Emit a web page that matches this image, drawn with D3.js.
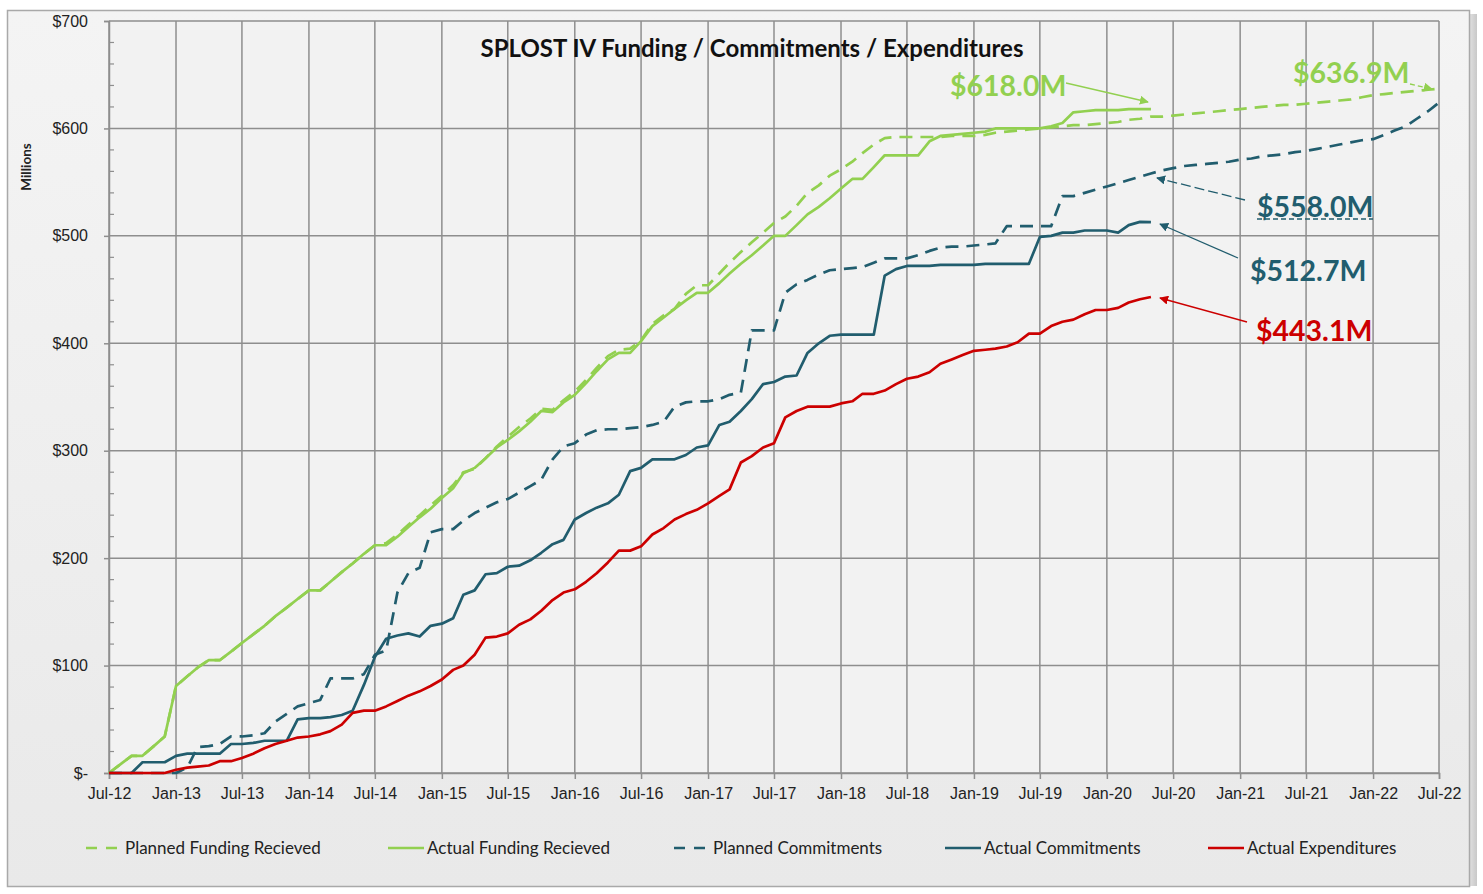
<!DOCTYPE html>
<html>
<head>
<meta charset="utf-8">
<script src="https://cdn.jsdelivr.net/npm/d3@7"></script>
<style>
  body { margin: 0; background: #fff; }
  svg { display: block; font-family: Lato, "Open Sans", sans-serif; }
</style>
</head>
<body>
<div name="chart"></div>
<script>
// monthly values, starting Jul-12 ($ millions)
const startMonth = new Date(2012, 6, 1);

const actualFunding = [
  0, 8, 16, 16, 25, 34, 81, 90, 98, 105, 105, 113,
  121, 129, 137, 146, 154, 162, 170, 170, 178, 187, 195, 204,
  212, 212, 220, 229, 238, 246, 256, 265, 279, 284, 293, 303,
  310, 318, 327, 337, 336, 345, 352, 363, 374, 385, 391, 391,
  402, 416, 424, 432, 440, 447, 447, 456, 465, 474, 482, 491,
  500, 500, 510, 520, 527, 535, 544, 553, 553, 564, 575, 575,
  575, 575, 588, 593, 594, 595, 596, 597, 600, 600, 600, 600,
  600, 602, 605, 615, 616, 617, 617, 617, 618, 618, 618,
];

const plannedFunding = [
  0, 8, 16, 16, 25, 34, 81, 90, 98, 105, 105, 113,
  121, 129, 137, 146, 154, 162, 170, 170, 178, 187, 195, 204,
  212, 214, 222, 231, 240, 249, 258, 268, 280, 283, 293, 304,
  313, 322, 330, 339, 338, 347, 355, 366, 377, 388, 394, 395,
  403, 418, 426, 432, 446, 454, 454, 465, 475, 485, 494, 503,
  512, 518, 528, 540, 547, 556, 562, 569, 577, 585, 591, 592,
  592, 592, 592, 592, 593, 593, 593, 594, 596, 597, 598, 599,
  600, 601, 602, 603, 603, 604, 605, 606, 608, 609, 611, 611,
  612, 613, 614, 615, 616, 617, 618, 619, 620, 621, 622, 622,
  623, 624, 625, 626, 627, 629, 631, 632, 633, 634, 635, 636,
  637,
];

const plannedCommitments = [
  0, 0, 0, 0, 0, 0, 0, 5, 24, 25, 27, 34,
  34, 35, 37, 48, 55, 62, 65, 68, 88, 88, 88, 92,
  110, 114, 168, 186, 191, 224, 227, 227, 235, 242, 247, 252,
  255, 261, 267, 273, 292, 304, 307, 315, 319, 320, 320, 321,
  322, 324, 327, 341, 345, 346, 346, 348, 352, 354, 412, 412,
  412, 447, 455, 459, 464, 468, 469, 470, 471, 475, 479, 479,
  479, 482, 486, 489, 490, 490, 491, 492, 493, 509, 509, 509,
  509, 509, 537, 537, 540, 543, 546, 549, 552, 555, 558, 561,
  563, 565, 566, 567, 568, 569, 571, 572, 574, 575, 576, 578,
  579, 581, 583, 585, 587, 589, 590, 594, 598, 602, 609, 616,
  624,
];

const actualCommitments = [
  0, 0, 0, 10, 10, 10, 16, 18, 18, 18, 18, 27,
  27, 28, 30, 30, 30, 50, 51, 51, 52, 54, 58, 82,
  108, 125, 128, 130, 127, 137, 139, 144, 166, 170, 185, 186,
  192, 193, 198, 205, 213, 217, 236, 242, 247, 251, 259, 281,
  284, 292, 292, 292, 296, 303, 305, 324, 327, 337, 348, 362,
  364, 369, 370, 391, 400, 407, 408, 408, 408, 408, 463, 469,
  472, 472, 472, 473, 473, 473, 473, 474, 474, 474, 474, 474,
  499, 500, 503, 503, 505, 505, 505, 503, 510, 513, 512.7,
];

const actualExpenditures = [
  0, 0, 0, 0, 0, 0, 3, 5, 6, 7, 11, 11,
  14, 18, 23, 27, 30, 33, 34, 36, 39, 45, 56, 58,
  58, 62, 67, 72, 76, 81, 87, 96, 100, 110, 126, 127,
  130, 138, 143, 151, 161, 168, 171, 178, 186, 196, 207, 207,
  211, 222, 228, 236, 241, 245, 251, 258, 264, 289, 295, 303,
  307, 331, 337, 341, 341, 341, 344, 346, 353, 353, 356, 362,
  367, 369, 373, 381, 385, 389, 393, 394, 395, 397, 401, 409,
  409, 416, 420, 422, 427, 431, 431, 433, 438, 441, 443.1,
];

const seriesNames = [
  'Planned Funding Recieved', 'Actual Funding Recieved',
  'Planned Commitments', 'Actual Commitments', 'Actual Expenditures',
];
const seriesValues = [plannedFunding, actualFunding, plannedCommitments, actualCommitments, actualExpenditures];
const seriesColors = ['#92d050', '#92d050', '#215d6e', '#215d6e', '#cc0000'];
const seriesDashed = [true, false, true, false, false];

const yTicks = [0, 100, 200, 300, 400, 500, 600, 700];
const yMinor = d3.range(0, 701, 20);

// call-out labels
const callouts = [
  { text: '$618.0M', color: '#92d050' },
  { text: '$636.9M', color: '#92d050' },
  { text: '$558.0M', color: '#215d6e' },
  { text: '$512.7M', color: '#215d6e' },
  { text: '$443.1M', color: '#cc0000' },
];

// ---

const svgWidth = 1483, svgHeight = 894;
const margin = { top: 21, right: 44, bottom: 121, left: 109 };
const plotW = svgWidth - margin.left - margin.right;
const plotH = svgHeight - margin.top - margin.bottom;

const svg = d3.select('div[name=chart]').append('svg')
  .attr('width', svgWidth)
  .attr('height', svgHeight);

const defs = svg.append('defs');
const bgGrad = defs.append('linearGradient').attr('id', 'bg').attr('x1', 0).attr('y1', 0).attr('x2', 0).attr('y2', 1);
bgGrad.append('stop').attr('offset', '0%').attr('stop-color', '#f4f4f4');
bgGrad.append('stop').attr('offset', '100%').attr('stop-color', '#e9e9e9');
const shadowGrad = defs.append('linearGradient').attr('id', 'shadow').attr('x1', 0).attr('y1', 0).attr('x2', 1).attr('y2', 0);
shadowGrad.append('stop').attr('offset', '0%').attr('stop-color', '#e4e4e4');
shadowGrad.append('stop').attr('offset', '100%').attr('stop-color', '#c8c8c8');

// outer frame
svg.append('rect')
  .attr('x', 1468).attr('y', 14).attr('width', 9).attr('height', 872)
  .attr('fill', 'url(#shadow)');
svg.append('rect')
  .attr('x', 7.5).attr('y', 10.5).attr('width', 1462).attr('height', 876)
  .attr('fill', 'url(#bg)')
  .attr('stroke', '#a9a9a9')
  .attr('stroke-width', 1.5);

const g = svg.append('g').attr('transform', `translate(${margin.left}, ${margin.top})`);

const x = d3.scaleTime()
  .domain([startMonth, d3.timeMonth.offset(startMonth, 120)])
  .range([0, plotW]);
const y = d3.scaleLinear().domain([0, 700]).range([plotH, 0]);
const dateOf = i => d3.timeMonth.offset(startMonth, i);

g.append('rect')
  .attr('width', plotW).attr('height', plotH)
  .attr('fill', '#f2f2f2');

const xTicks = d3.timeMonth.every(6).range(startMonth, d3.timeMonth.offset(startMonth, 121));

// grid
g.append('g').selectAll('line.v')
  .data(xTicks)
  .enter().append('line')
  .attr('x1', d => x(d)).attr('x2', d => x(d))
  .attr('y1', 0).attr('y2', plotH)
  .attr('stroke', '#8e8e8e').attr('stroke-width', 1.5);
g.append('g').selectAll('line.h')
  .data(yTicks)
  .enter().append('line')
  .attr('x1', 0).attr('x2', plotW)
  .attr('y1', d => y(d)).attr('y2', d => y(d))
  .attr('stroke', '#8e8e8e').attr('stroke-width', 1.5);

// y axis
const yAxis = g.append('g')
  .call(d3.axisLeft(y).tickValues(yTicks).tickSize(5).tickPadding(16)
    .tickFormat(d => d === 0 ? '$-' : '$' + d));
yAxis.select('.domain').attr('stroke', '#8e8e8e').attr('stroke-width', 1.5);
yAxis.selectAll('.tick line').attr('stroke', '#8e8e8e').attr('stroke-width', 1.5);
yAxis.selectAll('text').attr('font-size', 16).attr('fill', '#222');
g.append('g').selectAll('line')
  .data(yMinor.filter(d => d % 100 !== 0))
  .enter().append('line')
  .attr('x1', 0).attr('x2', 5)
  .attr('y1', d => y(d)).attr('y2', d => y(d))
  .attr('stroke', '#8e8e8e').attr('stroke-width', 1.2);

// x axis
const xAxis = g.append('g')
  .attr('transform', `translate(0, ${plotH})`)
  .call(d3.axisBottom(x).tickValues(xTicks).tickSize(6).tickPadding(9)
    .tickFormat(d3.timeFormat('%b-%y')));
xAxis.select('.domain').attr('stroke', '#8e8e8e').attr('stroke-width', 1.5);
xAxis.selectAll('.tick line').attr('stroke', '#8e8e8e').attr('stroke-width', 1.5);
xAxis.selectAll('text').attr('font-size', 16).attr('fill', '#222');

svg.append('text')
  .attr('transform', 'translate(31, 167) rotate(-90)')
  .attr('text-anchor', 'middle')
  .attr('font-size', 13.5)
  .attr('font-weight', 'bold')
  .attr('fill', '#222')
  .text('Millions');

// lines
const line = d3.line()
  .x((d, i) => x(dateOf(i)))
  .y(d => y(d));

seriesValues.forEach((vals, k) => {
  g.append('path')
    .datum(vals)
    .attr('fill', 'none')
    .attr('stroke', seriesColors[k])
    .attr('stroke-width', 2.7)
    .attr('stroke-linejoin', 'round')
    .attr('stroke-dasharray', seriesDashed[k] ? '13,8' : null)
    .attr('d', line);
});

// title
svg.append('text')
  .attr('x', 752).attr('y', 57)
  .attr('text-anchor', 'middle')
  .attr('font-size', 24)
  .attr('font-weight', 'bold')
  .attr('fill', '#111')
  .text('SPLOST IV Funding / Commitments / Expenditures');

// call-outs
const labelPos = [
  { tx: 950, ty: 96, ax1: 1066, ay1: 83, ax2: 1148, ay2: 102, dash: null },
  { tx: 1293, ty: 83, ax1: 1410, ay1: 84, ax2: 1432, ay2: 89, dash: '5,3' },
  { tx: 1257, ty: 217, ax1: 1245, ay1: 200, ax2: 1157, ay2: 178, dash: '10,4' },
  { tx: 1250, ty: 281, ax1: 1238, ay1: 258, ax2: 1160, ay2: 224, dash: null },
  { tx: 1256, ty: 341, ax1: 1247, ay1: 322, ax2: 1160, ay2: 298, dash: null },
];

callouts.forEach((c, i) => {
  const p = labelPos[i];
  const id = 'arr' + i;
  defs.append('marker')
    .attr('id', id)
    .attr('viewBox', '0 0 10 10')
    .attr('refX', 9).attr('refY', 5)
    .attr('markerWidth', 9).attr('markerHeight', 9)
    .attr('markerUnits', 'userSpaceOnUse')
    .attr('orient', 'auto')
    .append('path')
    .attr('d', 'M0,0 L10,5 L0,10 z')
    .attr('fill', c.color);
  svg.append('line')
    .attr('x1', p.ax1).attr('y1', p.ay1)
    .attr('x2', p.ax2).attr('y2', p.ay2)
    .attr('stroke', c.color)
    .attr('stroke-width', 1.3)
    .attr('stroke-dasharray', p.dash)
    .attr('marker-end', `url(#${id})`);
  svg.append('text')
    .attr('x', p.tx).attr('y', p.ty)
    .attr('font-size', 28.5)
    .attr('font-weight', 'bold')
    .attr('fill', c.color)
    .text(c.text);
  if (i === 2) {
    svg.append('line')
      .attr('x1', p.tx).attr('x2', p.tx + 116)
      .attr('y1', 219).attr('y2', 219)
      .attr('stroke', c.color)
      .attr('stroke-width', 1.3)
      .attr('stroke-dasharray', '5,3');
  }
});

// legend
const legendX = [86, 388, 674, 945, 1208];
const legend = svg.append('g');
seriesNames.forEach((name, k) => {
  const lx = legendX[k];
  const len = seriesDashed[k] ? 31 : 36;
  legend.append('line')
    .attr('x1', lx).attr('x2', lx + len)
    .attr('y1', 848).attr('y2', 848)
    .attr('stroke', seriesColors[k])
    .attr('stroke-width', 2.7)
    .attr('stroke-dasharray', seriesDashed[k] ? '11,9' : null);
  legend.append('text')
    .attr('x', lx + len + (seriesDashed[k] ? 8 : 3))
    .attr('y', 854)
    .attr('font-size', 17)
    .attr('fill', '#222')
    .text(name);
});
</script>
</body>
</html>
